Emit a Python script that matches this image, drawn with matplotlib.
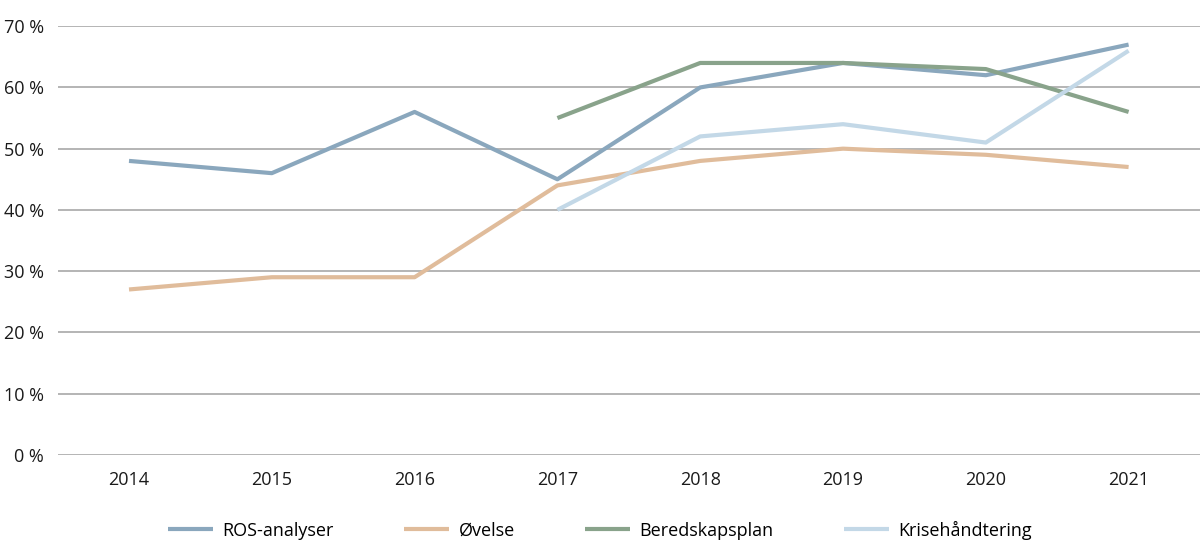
import matplotlib.pyplot as plt
import numpy as np

years = ["2014", "2015", "2016", "2017", "2018", "2019", "2020", "2021"]
ros = [48, 46, 56, 45, 60, 64, 62, 67]
ovelse = [27, 29, 29, 44, 48, 50, 49, 47]
beredskap = [None, None, None, 55, 64, 64, 63, 56]
krise = [None, None, None, 40, 52, 54, 51, 66]

names = ["ROS-analyser", "Øvelse", "Beredskapsplan", "Krisehåndtering"]
colors = ["#8aa7bd", "#e0bc9b", "#89a38b", "#c3d8e7"]

plt.rcParams['font.family'] = ['Open Sans', 'DejaVu Sans']

fig = plt.figure(figsize=(12, 5.58), dpi=100)
ax = fig.add_axes([0.048, 0.185, 0.952, 0.768])

x = np.arange(len(years))
for vals, name, c in zip([ros, ovelse, beredskap, krise], names, colors):
    v = np.array([np.nan if a is None else a for a in vals], dtype=float)
    ax.plot(x, v, color=c, lw=3, label=name, solid_capstyle='butt')

ax.set_xlim(-0.5, 7.5)
ax.set_ylim(0, 70)
ax.set_yticks(range(0, 71, 10))
ax.set_yticklabels([f"{t} %" for t in range(0, 71, 10)])
ax.set_xticks(x)
ax.set_xticklabels(years)
ax.yaxis.grid(True, color='#a0a0a0', lw=1.1)
ax.set_axisbelow(True)
for s in ax.spines.values():
    s.set_visible(False)
ax.tick_params(length=0, labelsize=13, colors='#1a1a1a')
ax.tick_params(axis='x', pad=12)
ax.tick_params(axis='y', pad=10)

fig.legend(loc='center', bbox_to_anchor=(0.5, 0.05), ncol=4, frameon=False,
           fontsize=13, handlelength=2.5, columnspacing=3.9, handletextpad=0.5)

fig.savefig("out.png", dpi=100)
